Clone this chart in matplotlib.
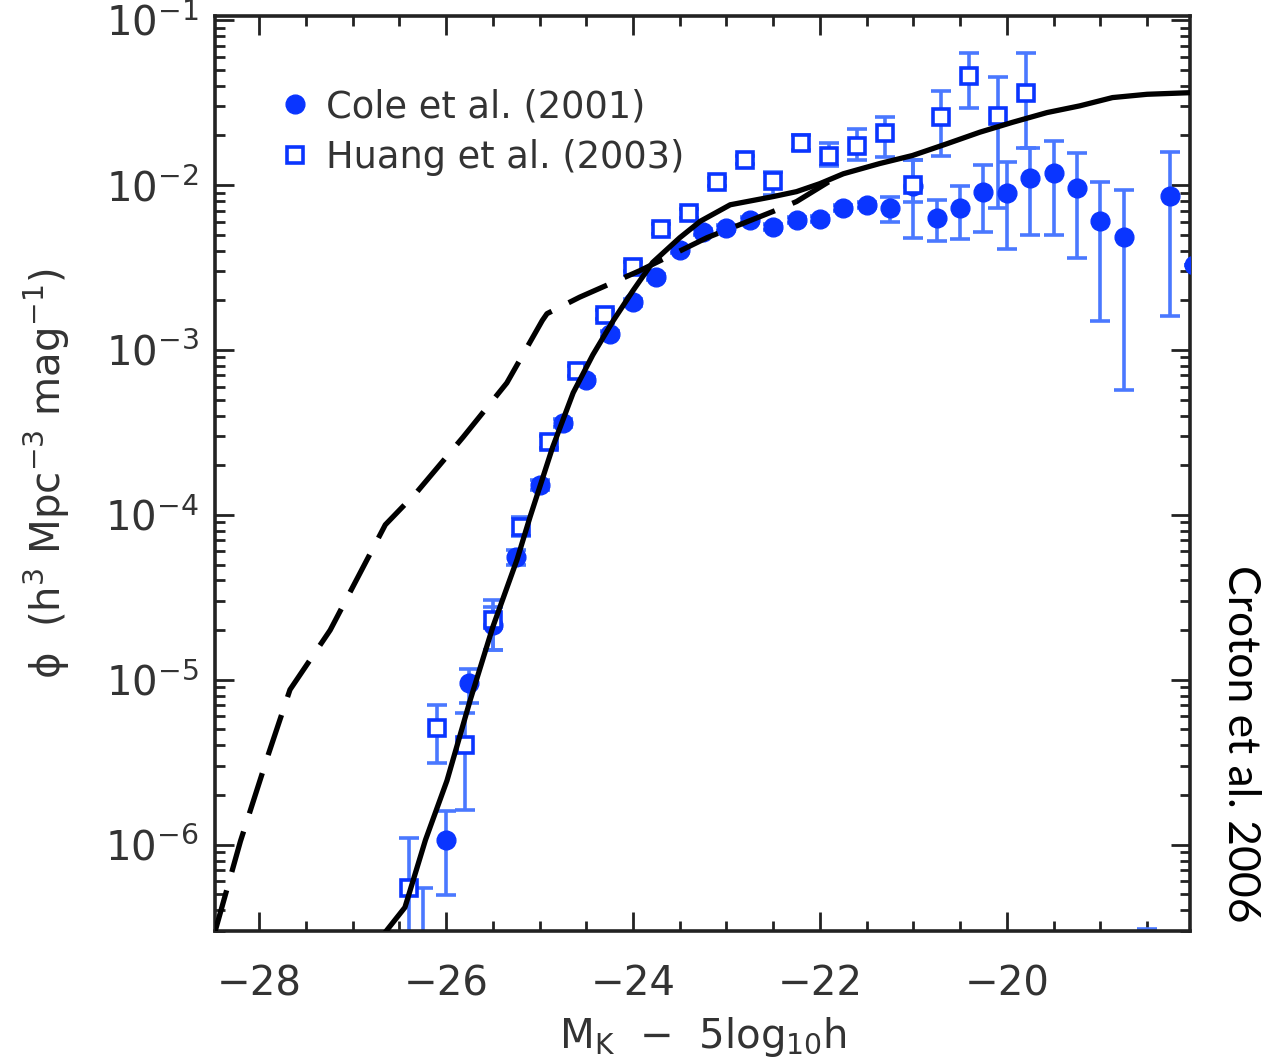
import numpy as np
import matplotlib
matplotlib.use("Agg")
import matplotlib.pyplot as plt
from matplotlib.ticker import MultipleLocator, LogLocator, NullFormatter, FuncFormatter

# ---- data ----
cole_M = [-26.25, -26.0, -25.75, -25.5, -25.25, -25.0, -24.75, -24.5, -24.25, -24.0,
          -23.75, -23.5, -23.25, -23.0, -22.75, -22.5, -22.25, -22.0, -21.75, -21.5,
          -21.25, -21.0, -20.75, -20.5, -20.25, -20.0, -19.75, -19.5, -19.25, -19.0,
          -18.75, -18.5, -18.25, -18.0]
cole_phi = [2.0e-7, 1.07e-6, 9.6e-6, 2.15e-5, 5.56e-5, 1.52e-4, 3.61e-4, 6.58e-4, 1.25e-3, 1.95e-3,
            2.77e-3, 4.04e-3, 5.19e-3, 5.48e-3, 6.14e-3, 5.56e-3, 6.14e-3, 6.22e-3, 7.26e-3, 7.56e-3,
            7.26e-3, 9.86e-3, 6.31e-3, 7.26e-3, 9.07e-3, 8.95e-3, 1.10e-2, 1.18e-2, 9.59e-3, 6.05e-3,
            4.84e-3, 2.0e-7, 8.58e-3, 3.27e-3]
cole_hi = [5.48e-7, 1.61e-6, 1.17e-5, 2.77e-5, 6.1e-5, 1.62e-4, 3.8e-4, 6.9e-4, 1.31e-3, 2.05e-3,
           2.9e-3, 4.2e-3, 5.4e-3, 5.7e-3, 6.4e-3, 5.8e-3, 6.4e-3, 6.5e-3, 7.6e-3, 7.9e-3,
           8.45e-3, 1.42e-2, 8.11e-3, 9.86e-3, 1.32e-2, 1.38e-2, 1.67e-2, 1.85e-2, 1.56e-2, 1.04e-2,
           9.33e-3, 3.1e-7, 1.58e-2, 3.27e-3]
cole_lo = [1.0e-7, 4.98e-7, 7.26e-6, 1.52e-5, 5.0e-5, 1.42e-4, 3.42e-4, 6.26e-4, 1.19e-3, 1.85e-3,
           2.64e-3, 3.88e-3, 4.98e-3, 5.26e-3, 5.88e-3, 5.32e-3, 5.88e-3, 5.95e-3, 6.92e-3, 7.22e-3,
           5.98e-3, 4.77e-3, 4.58e-3, 4.71e-3, 5.19e-3, 4.09e-3, 4.98e-3, 4.98e-3, 3.61e-3, 1.50e-3,
           5.73e-4, 1.0e-7, 1.61e-3, 3.27e-3]

huang_M = [-26.4, -26.1, -25.8, -25.5, -25.2, -24.9, -24.6, -24.3, -24.0, -23.7,
           -23.4, -23.1, -22.8, -22.5, -22.2, -21.9, -21.6, -21.3, -21.0, -20.7,
           -20.4, -20.1, -19.8]
huang_phi = [5.48e-7, 5.12e-6, 4.04e-6, 2.31e-5, 8.45e-5, 2.77e-4, 7.46e-4, 1.63e-3, 3.19e-3, 5.41e-3,
             6.76e-3, 1.04e-2, 1.42e-2, 1.06e-2, 1.80e-2, 1.50e-2, 1.72e-2, 2.07e-2, 1.0e-2, 2.58e-2,
             4.58e-2, 2.62e-2, 3.61e-2]
huang_hi = [1.10e-6, 7.05e-6, 6.31e-6, 3.06e-5, 9.7e-5, 3.0e-4, 8.0e-4, 1.74e-3, 3.4e-3, 5.8e-3,
            7.2e-3, 1.1e-2, 1.5e-2, 1.20e-2, 2.0e-2, 1.80e-2, 2.18e-2, 2.58e-2, 1.42e-2, 3.72e-2,
            6.31e-2, 4.52e-2, 6.31e-2]
huang_lo = [1.0e-7, 3.14e-6, 1.63e-6, 1.52e-5, 7.4e-5, 2.56e-4, 6.95e-4, 1.53e-3, 3.0e-3, 5.05e-3,
            6.35e-3, 9.8e-3, 1.34e-2, 8.7e-3, 1.63e-2, 1.30e-2, 1.42e-2, 1.48e-2, 7.89e-3, 1.50e-2,
            2.93e-2, 7.26e-3, 1.67e-2]

model_M = [-26.65, -26.44, -26.22, -25.99, -25.74, -25.50, -25.24, -25.10, -24.86, -24.64,
           -24.43, -24.21, -24.0, -23.79, -23.50, -23.28, -22.96, -22.50, -22.25, -22.0,
           -21.75, -21.36, -21.01, -20.64, -20.29, -19.94, -19.57, -19.22, -18.87, -18.50, -18.04]
model_phi = [2.95e-7, 4.17e-7, 1.07e-6, 2.45e-6, 7.59e-6, 2.09e-5, 5.37e-5, 9.77e-5, 2.57e-4, 5.50e-4,
             9.33e-4, 1.51e-3, 2.29e-3, 3.39e-3, 4.79e-3, 6.03e-3, 7.59e-3, 8.51e-3, 9.12e-3, 1.02e-2,
             1.17e-2, 1.35e-2, 1.51e-2, 1.78e-2, 2.09e-2, 2.40e-2, 2.75e-2, 3.02e-2, 3.39e-2, 3.55e-2, 3.63e-2]

noagn_M = [-28.47, -28.20, -27.90, -27.67, -27.24, -26.65, -26.31, -25.82, -25.35, -24.97,
           -24.92, -24.57, -23.93, -23.21, -22.50, -22.25, -21.82]
noagn_phi = [3.0e-7, 1.05e-6, 3.55e-6, 8.71e-6, 2.0e-5, 8.71e-5, 1.38e-4, 2.95e-4, 6.31e-4, 1.51e-3,
             1.66e-3, 2.09e-3, 3.02e-3, 4.79e-3, 6.92e-3, 7.94e-3, 1.12e-2]

labels = ["Cole et al. (2001)", "Huang et al. (2003)"]

# ---- figure ----
fig = plt.figure(figsize=(12.81, 10.62), dpi=100)
ax = fig.add_axes([0.168, 0.1234, 0.761, 0.8616])

blue = "#0a35ff"
ebblue = "#4a78ff"

cole_M_a = np.array(cole_M); cole_phi_a = np.array(cole_phi)
yerr_c = [cole_phi_a - np.array(cole_lo), np.array(cole_hi) - cole_phi_a]
ax.errorbar(cole_M_a, cole_phi_a, yerr=yerr_c, fmt='none', ecolor=ebblue, elinewidth=2.6,
            capsize=7, capthick=2.6, zorder=2)
ax.plot(cole_M_a, cole_phi_a, 'o', color=blue, ms=13.5, mec=blue, zorder=3, label=labels[0])

huang_M_a = np.array(huang_M); huang_phi_a = np.array(huang_phi)
yerr_h = [huang_phi_a - np.array(huang_lo), np.array(huang_hi) - huang_phi_a]
ax.errorbar(huang_M_a, huang_phi_a, yerr=yerr_h, fmt='none', ecolor=ebblue, elinewidth=2.6,
            capsize=7, capthick=2.6, zorder=2)
ax.plot(huang_M_a, huang_phi_a, 's', mfc='white', mec=blue, mew=2.6, ms=11, zorder=3,
        label=labels[1])

ax.plot(model_M, model_phi, '-', color='black', lw=3.8, zorder=5, solid_capstyle='round')
ax.plot(noagn_M, noagn_phi, color='black', lw=3.8, dashes=(8, 3.6), zorder=5)

ax.set_yscale('log')
ax.set_xlim(-28.47, -18.04)
ax.set_ylim(3.0e-7, 1.06e-1)

ax.xaxis.set_major_locator(MultipleLocator(2))
ax.xaxis.set_minor_locator(MultipleLocator(0.5))
ax.yaxis.set_major_locator(LogLocator(base=10, numticks=20))
ax.yaxis.set_minor_locator(LogLocator(base=10, subs=np.arange(2, 10), numticks=20))
ax.yaxis.set_minor_formatter(NullFormatter())

ax.tick_params(which='both', direction='in', top=True, right=True, width=2.0, color='#222222')
ax.tick_params(which='major', length=14, labelsize=29, labelcolor='#333333')
ax.tick_params(which='minor', length=7)
ax.tick_params(axis='y', which='major', pad=12)
ax.tick_params(axis='x', which='major', pad=24)
for s in ax.spines.values():
    s.set_linewidth(2.6)
    s.set_color('#222222')

ax.xaxis.set_major_formatter(FuncFormatter(lambda v, p: "\u2212%d" % abs(v) if v < 0 else "%d" % v))

ax.set_xlabel("M$_\\mathregular{K}$  \u2212  5log$_\\mathregular{10}$h",
              fontsize=29, color='#333333', labelpad=8)
ax.set_ylabel("ϕ  (h$^\\mathregular{3}$ Mpc$^\\mathregular{-3}$ mag$^\\mathregular{-1}$)",
              fontsize=29, color='#333333', labelpad=24)

leg = ax.legend(loc='upper left', bbox_to_anchor=(0.055, 0.937), frameon=False, fontsize=26.5,
                handlelength=0.6, handletextpad=0.55, labelspacing=0.38, borderaxespad=0)
for t in leg.get_texts():
    t.set_color('#333333')

fig.text(0.968, 0.30, "Croton et al. 2006", rotation=-90, ha='center', va='center',
         fontsize=32, family=['Lato', 'DejaVu Sans'], color='black')

fig.savefig("out.png", dpi=100)
